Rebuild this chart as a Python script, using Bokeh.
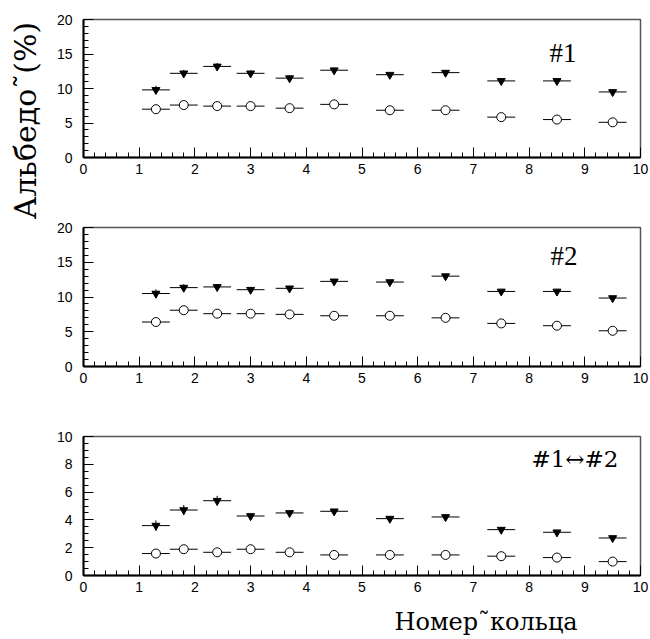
from math import pi
import numpy as np
from bokeh.plotting import figure
from bokeh.layouts import column, row
from bokeh.models import Label, FixedTicker
from bokeh.embed import file_html
from bokeh.resources import INLINE

# ---- data ----
rings = [1.3, 1.8, 2.4, 3.0, 3.7, 4.5, 5.5, 6.5, 7.5, 8.5, 9.5]
ring_halfwidth = [0.25, 0.25, 0.25, 0.25, 0.25, 0.25, 0.25, 0.25, 0.25, 0.25, 0.25]

p1_tri = [9.8, 12.2, 13.2, 12.2, 11.5, 12.65, 12.0, 12.3, 11.1, 11.1, 9.5]
p1_tri_err = [0.6, 0.5, 0.5, 0.4, 0.4, 0.3, 0.3, 0.3, 0.3, 0.3, 0.3]
p1_circ = [7.0, 7.6, 7.45, 7.45, 7.15, 7.7, 6.85, 6.85, 5.85, 5.5, 5.1]
p1_circ_err = [0.3, 0.3, 0.3, 0.3, 0.3, 0.3, 0.3, 0.3, 0.3, 0.3, 0.3]

p2_tri = [10.5, 11.35, 11.45, 11.05, 11.25, 12.25, 12.15, 13.0, 10.8, 10.8, 9.85]
p2_tri_err = [0.6, 0.5, 0.4, 0.3, 0.3, 0.3, 0.3, 0.3, 0.3, 0.3, 0.3]
p2_circ = [6.4, 8.1, 7.6, 7.6, 7.5, 7.3, 7.3, 7.0, 6.2, 5.87, 5.14]
p2_circ_err = [0.3, 0.3, 0.3, 0.3, 0.3, 0.3, 0.3, 0.3, 0.3, 0.3, 0.3]

p3_tri = [3.59, 4.71, 5.38, 4.28, 4.5, 4.62, 4.09, 4.21, 3.3, 3.11, 2.7]
p3_tri_err = [0.38, 0.36, 0.35, 0.2, 0.2, 0.15, 0.15, 0.15, 0.15, 0.15, 0.15]
p3_circ = [1.58, 1.89, 1.67, 1.89, 1.67, 1.48, 1.48, 1.48, 1.39, 1.29, 1.0]
p3_circ_err = [0.15, 0.15, 0.15, 0.15, 0.15, 0.15, 0.15, 0.15, 0.15, 0.15, 0.15]

x_ticks = [0, 1, 2, 3, 4, 5, 6, 7, 8, 9, 10]
y_ticks_20 = [0, 5, 10, 15, 20]
y_ticks_10 = [0, 2, 4, 6, 8, 10]

tags = ["#1", "#2", "#1↔#2"]
y_title = "Альбедо˜(%)"
x_title = "Номер˜кольца"

SERIF = "Liberation Serif"
WIDE_SERIF = "DejaVu Serif"
SANS = "Liberation Sans"


def make_panel(tri, tri_err, circ, circ_err, ymax, frame_h, yticks, yminor_step,
               tag, tag_x, tag_y, tag_font, tag_size, left, top, bottom):
    p = figure(frame_width=557, frame_height=frame_h,
               x_range=(0, 10), y_range=(0, ymax),
               toolbar_location=None, output_backend="svg",
               min_border_left=left, min_border_right=10,
               min_border_top=top, min_border_bottom=bottom,
               background_fill_color="white", border_fill_color="white",
               outline_line_color="#555555", outline_line_width=1.5)
    p.grid.visible = False

    p.xaxis.ticker = FixedTicker(ticks=x_ticks,
                                 minor_ticks=list(np.arange(0, 10.001, 0.2)))
    p.yaxis.ticker = FixedTicker(ticks=yticks,
                                 minor_ticks=list(np.arange(0, ymax + 0.001, yminor_step)))
    for ax in (p.xaxis, p.yaxis):
        ax.axis_line_color = "black"
        ax.axis_line_width = 2
        ax.major_tick_in = 10
        ax.major_tick_out = 0
        ax.minor_tick_in = 5
        ax.minor_tick_out = 0
        ax.major_tick_line_color = "black"
        ax.minor_tick_line_color = "black"
        ax.major_label_text_font = SANS
        ax.major_label_text_font_size = "14px"
        ax.major_label_text_color = "black"
    p.xaxis.major_label_standoff = 6
    p.yaxis.major_label_standoff = 11

    x = np.array(rings)
    hw = np.array(ring_halfwidth)
    for vals, errs in ((tri, tri_err), (circ, circ_err)):
        v = np.array(vals)
        e = np.array(errs)
        p.segment(x0=x - hw, y0=v, x1=x + hw, y1=v, line_color="black", line_width=1)
        p.segment(x0=x, y0=v - e, x1=x, y1=v + e, line_color="black", line_width=1)
    p.scatter(x=rings, y=tri, marker="inverted_triangle", size=8,
              fill_color="black", line_color="black")
    p.scatter(x=rings, y=circ, marker="circle", size=9,
              fill_color="white", line_color="black", line_width=1)

    p.add_layout(Label(x=tag_x, y=tag_y, x_units="screen", y_units="screen",
                       text=tag, text_align="right", text_baseline="alphabetic",
                       text_font=tag_font, text_font_size=tag_size, text_color="black"))
    return p


f1 = make_panel(p1_tri, p1_tri_err, p1_circ, p1_circ_err, 20, 138, y_ticks_20, 1,
                tags[0], 493, 105, SERIF, "27px", 38, 19, 35)
f2 = make_panel(p2_tri, p2_tri_err, p2_circ, p2_circ_err, 20, 139, y_ticks_20, 1,
                tags[1], 494, 111, SERIF, "27px", 38, 35, 36)
f3 = make_panel(p3_tri, p3_tri_err, p3_circ, p3_circ_err, 10, 139, y_ticks_10, 0.5,
                tags[2], 535, 117, WIDE_SERIF, "23px", 83, 34, 25)

# rotated y title spanning the two upper panels
lab = figure(width=45, height=402, x_range=(0, 1), y_range=(0, 1),
             toolbar_location=None, output_backend="svg", min_border=0,
             x_axis_location=None, y_axis_location=None,
             outline_line_color=None)
lab.grid.visible = False
lab.add_layout(Label(x=25, y=282, x_units="screen", y_units="screen",
                     text=y_title, angle=pi / 2, text_align="center",
                     text_baseline="middle", text_font=WIDE_SERIF,
                     text_font_size="30px", text_color="black"))

# x title under the bottom panel (its frame is aligned with the panel frame above)
xlab = figure(width=650, height=39, x_range=(0, 1), y_range=(0, 1),
              toolbar_location=None, output_backend="svg", min_border=0,
              x_axis_location=None, y_axis_location=None,
              outline_line_color=None)
xlab.grid.visible = False
xlab.add_layout(Label(x=311, y=18, x_units="screen", y_units="screen",
                      text=x_title, text_align="left", text_baseline="middle",
                      text_font=WIDE_SERIF, text_font_size="24px", text_color="black"))

layout = column(row(lab, column(f1, f2)), f3, xlab)

with open("out.html", "w") as fh:
    fh.write(file_html(layout, INLINE))
